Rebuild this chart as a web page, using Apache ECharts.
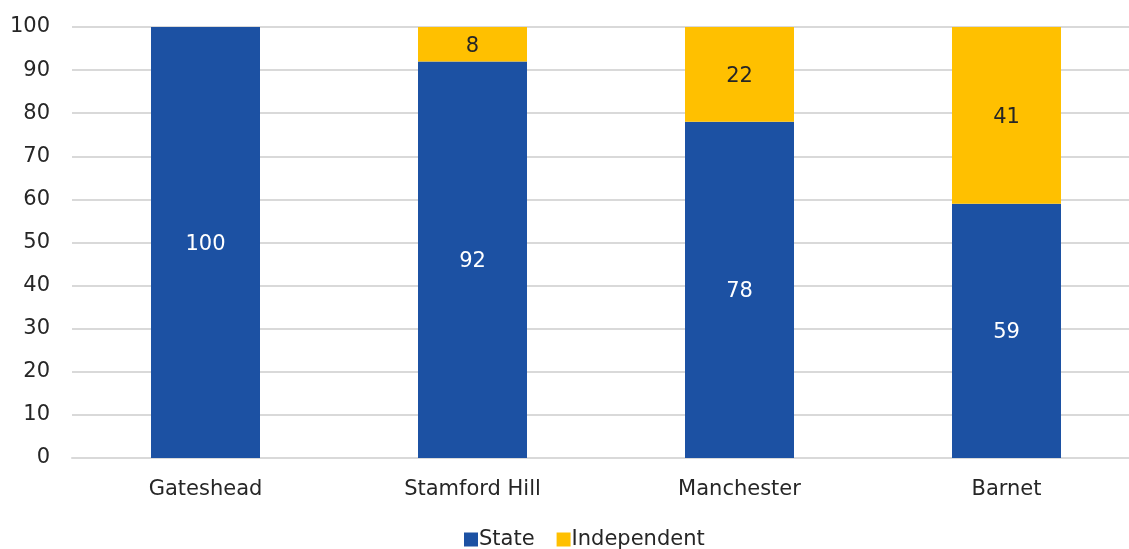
<!DOCTYPE html>
<html>
<head>
<meta charset="utf-8">
<script src="https://cdn.jsdelivr.net/npm/echarts@6/dist/echarts.min.js"></script>
<style>
  html, body { margin: 0; padding: 0; background: #fff; }
  #main { width: 1129px; height: 549px; }
</style>
</head>
<body>
<div id="main"></div>
<script>
var categories = ['Gateshead', 'Stamford Hill', 'Manchester', 'Barnet'];
var stateValues = [100, 92, 78, 59];
var independentValues = [0, 8, 22, 41];

var FONT = 'DejaVu Sans';
var myChart = echarts.init(document.getElementById('main'));
var option = {
    backgroundColor: '#ffffff',
    textStyle: { fontFamily: FONT },
    grid: {
        left: 72,
        top: 27,
        width: 1068,
        bottom: 91,
        outerBoundsMode: 'none'
    },
    legend: {
        bottom: -6,
        left: 459,
        itemWidth: 14,
        itemHeight: 14,
        itemGap: 22,
        icon: 'rect',
        textStyle: { fontSize: 21, color: '#262626', fontFamily: FONT, padding: [0, 0, 0, -4] },
        data: ['State', 'Independent']
    },
    xAxis: {
        type: 'category',
        data: categories,
        axisTick: { show: false },
        axisLine: { lineStyle: { color: '#d9d9d9', width: 2 } },
        axisLabel: { fontSize: 21, color: '#262626', margin: 21 }
    },
    yAxis: {
        type: 'value',
        min: 0,
        max: 100,
        interval: 10,
        axisLine: { show: false },
        axisTick: { show: false },
        splitLine: { lineStyle: { color: '#d9d9d9', width: 2 } },
        axisLabel: { fontSize: 21, color: '#262626', margin: 22 }
    },
    series: [
        {
            name: 'State',
            type: 'bar',
            stack: 'total',
            barWidth: 109,
            itemStyle: { color: '#1c51a3' },
            label: { show: true, position: 'inside', color: '#ffffff', fontSize: 21, offset: [0, 2] },
            data: stateValues
        },
        {
            name: 'Independent',
            type: 'bar',
            stack: 'total',
            barWidth: 109,
            itemStyle: { color: '#ffc000' },
            label: {
                show: true, position: 'inside', color: '#262626', fontSize: 21, offset: [0, 2],
                formatter: function (p) { return p.value > 0 ? p.value : ''; }
            },
            data: independentValues
        }
    ]
};
myChart.setOption(option);
</script>
</body>
</html>
